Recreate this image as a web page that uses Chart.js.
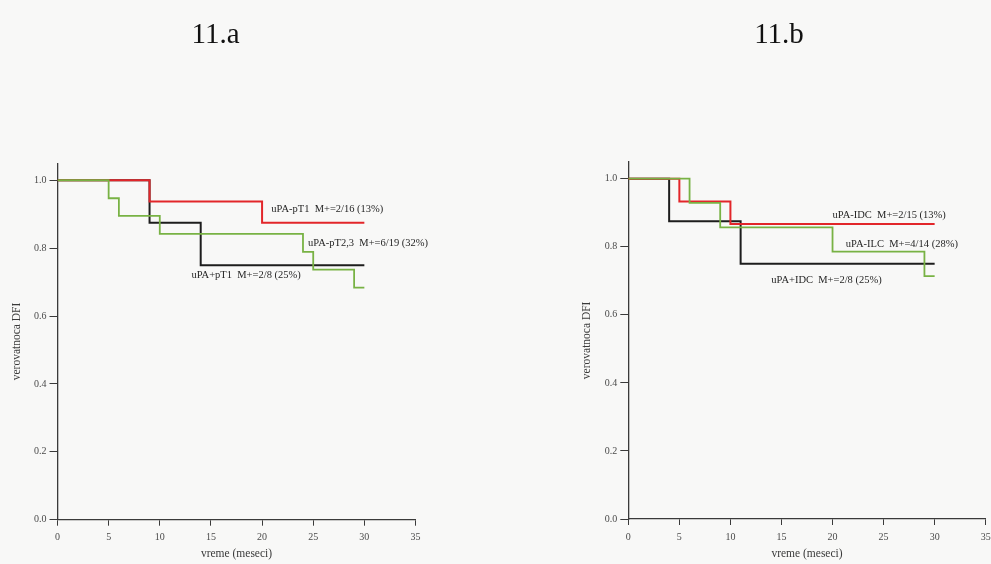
<!DOCTYPE html>
<html>
<head>
<meta charset="utf-8">
<script src="https://cdn.jsdelivr.net/npm/chart.js@4/dist/chart.umd.min.js"></script>
<style>
  html, body { margin: 0; padding: 0; background: #f8f8f7; }
  #wrap { position: relative; width: 991px; height: 564px; overflow: hidden; }
  #wrap canvas { position: absolute; left: 0; top: 0; }
</style>
</head>
<body>
<div id="wrap">
  <canvas id="chartA" width="991" height="564"></canvas>
  <canvas id="chartB" width="991" height="564"></canvas>
</div>
<script>
// ---- 11.a : DFI by uPA status and tumour size (Kaplan-Meier steps) ----
const monthsA_negT1 = [0, 9, 20, 30];
const survA_negT1   = [1, 0.9375, 0.875, 0.875];
const monthsA_negT23 = [0, 5, 6, 10, 24, 25, 29, 30];
const survA_negT23   = [1, 0.947, 0.895, 0.842, 0.789, 0.737, 0.684, 0.684];
const monthsA_posT1 = [0, 9, 14, 30];
const survA_posT1   = [1, 0.875, 0.75, 0.75];
const notesA = ['uPA-pT1  M+=2/16 (13%)', 'uPA-pT2,3  M+=6/19 (32%)', 'uPA+pT1  M+=2/8 (25%)'];

// ---- 11.b : DFI by uPA status and histological type ----
const monthsB_negIDC = [0, 5, 10, 30];
const survB_negIDC   = [1, 0.933, 0.867, 0.867];
const monthsB_negILC = [0, 6, 9, 20, 29, 30];
const survB_negILC   = [1, 0.929, 0.857, 0.786, 0.714, 0.714];
const monthsB_posIDC = [0, 4, 11, 30];
const survB_posIDC   = [1, 0.875, 0.75, 0.75];
const notesB = ['uPA-IDC  M+=2/15 (13%)', 'uPA-ILC  M+=4/14 (28%)', 'uPA+IDC  M+=2/8 (25%)'];

// ---- shared axes ----
const xTickValues = [0, 5, 10, 15, 20, 25, 30, 35];
const yTickValues = [0, 0.2, 0.4, 0.6, 0.8, 1.0];
const xTitle = 'vreme (meseci)';
const yTitle = 'verovatnoca DFI';

const SERIF = '"Liberation Serif", "DejaVu Serif", serif';
const RED = '#e2262a', GREEN = '#78b244', BLACK = '#1d1d1d';

function points(xs, ys) { return xs.map((x, i) => ({ x: x, y: ys[i] })); }

function step(label, xs, ys, color, width) {
  return {
    label: label, data: points(xs, ys), borderColor: color, borderWidth: width,
    stepped: true, pointRadius: 0, fill: false, tension: 0
  };
}

// Text placed next to each curve, anchored in data units (month, survival)
function notesPlugin(title, titleShift, texts, anchors) {
  return {
    id: 'kmNotes',
    afterDatasetsDraw(chart) {
      const { ctx, chartArea, scales } = chart;
      ctx.save();
      ctx.fillStyle = '#262626';
      ctx.font = '10.5px ' + SERIF;
      ctx.textAlign = 'left';
      ctx.textBaseline = 'middle';
      texts.forEach((t, i) => {
        const a = anchors[i];
        ctx.fillText(t, scales.x.getPixelForValue(a[0]), scales.y.getPixelForValue(a[1]));
      });
      ctx.font = '29px ' + SERIF;
      ctx.fillStyle = '#111';
      ctx.textAlign = 'center';
      ctx.textBaseline = 'alphabetic';
      ctx.fillText(title, (chartArea.left + chartArea.right) / 2 + titleShift, 42.5);
      ctx.restore();
    }
  };
}

function makeChart(id, area, datasets, plugin, yTitleInset) {
  return new Chart(document.getElementById(id), {
    type: 'line',
    data: { datasets: datasets },
    options: {
      responsive: false,
      animation: false,
      devicePixelRatio: 1,
      layout: { padding: { left: 0, top: area.top, right: 991 - area.right, bottom: 0 } },
      plugins: { legend: { display: false }, tooltip: { enabled: false }, title: { display: false } },
      scales: {
        x: {
          type: 'linear', min: 0, max: 35,
          afterBuildTicks: s => { s.ticks = xTickValues.map(v => ({ value: v })); },
          afterFit: s => { s.height = 564 - area.bottom; s.paddingLeft = 0; s.paddingRight = 0; },
          grid: { display: true, drawOnChartArea: false, drawTicks: true, tickLength: 6, color: '#3a3a3a', lineWidth: 1 },
          border: { display: true, color: '#3a3a3a', width: 1.3 },
          ticks: { font: { family: SERIF, size: 10 }, color: '#4a4a4a', padding: 6, maxRotation: 0, autoSkip: false,
                   callback: v => String(v) },
          title: { display: true, text: xTitle, font: { family: SERIF, size: 11.5 }, color: '#3a3a3a',
                   padding: { top: 0, bottom: 3 } }
        },
        y: {
          type: 'linear', min: 0, max: 1.05,
          afterBuildTicks: s => { s.ticks = yTickValues.map(v => ({ value: v })); },
          afterFit: s => { s.width = area.left; s.paddingTop = 0; s.paddingBottom = 0; },
          grid: { display: true, drawOnChartArea: false, drawTicks: true, tickLength: 8, color: '#3a3a3a', lineWidth: 1 },
          border: { display: true, color: '#3a3a3a', width: 1.3 },
          ticks: { font: { family: SERIF, size: 10 }, color: '#4a4a4a', padding: 3, autoSkip: false,
                   callback: v => Number(v).toFixed(1) },
          title: { display: true, text: yTitle, font: { family: SERIF, size: 11.5 }, color: '#3a3a3a',
                   padding: { top: yTitleInset, bottom: 0 } }
        }
      }
    },
    plugins: [plugin]
  });
}

// Left panel
makeChart('chartA',
  { left: 57.5, right: 415.5, top: 163.3, bottom: 519.7 },
  [
    step('uPA-pT2,3', monthsA_negT23, survA_negT23, GREEN, 1.8),
    step('uPA-pT1', monthsA_negT1, survA_negT1, RED, 2),
    step('uPA+pT1', monthsA_posT1, survA_posT1, BLACK, 2)
  ],
  notesPlugin('11.a', -21, notesA, [[20.9, 0.914], [24.5, 0.813], [13.1, 0.719]]),
  9.6
);

// Right panel
makeChart('chartB',
  { left: 628.3, right: 985.7, top: 161.7, bottom: 519 },
  [
    step('uPA-ILC', monthsB_negILC, survB_negILC, GREEN, 1.8),
    step('uPA-IDC', monthsB_negIDC, survB_negIDC, RED, 2),
    step('uPA+IDC', monthsB_posIDC, survB_posIDC, BLACK, 2)
  ],
  notesPlugin('11.b', -28, notesB, [[20.0, 0.894], [21.3, 0.808], [14.0, 0.703]]),
  580
);
</script>
</body>
</html>
